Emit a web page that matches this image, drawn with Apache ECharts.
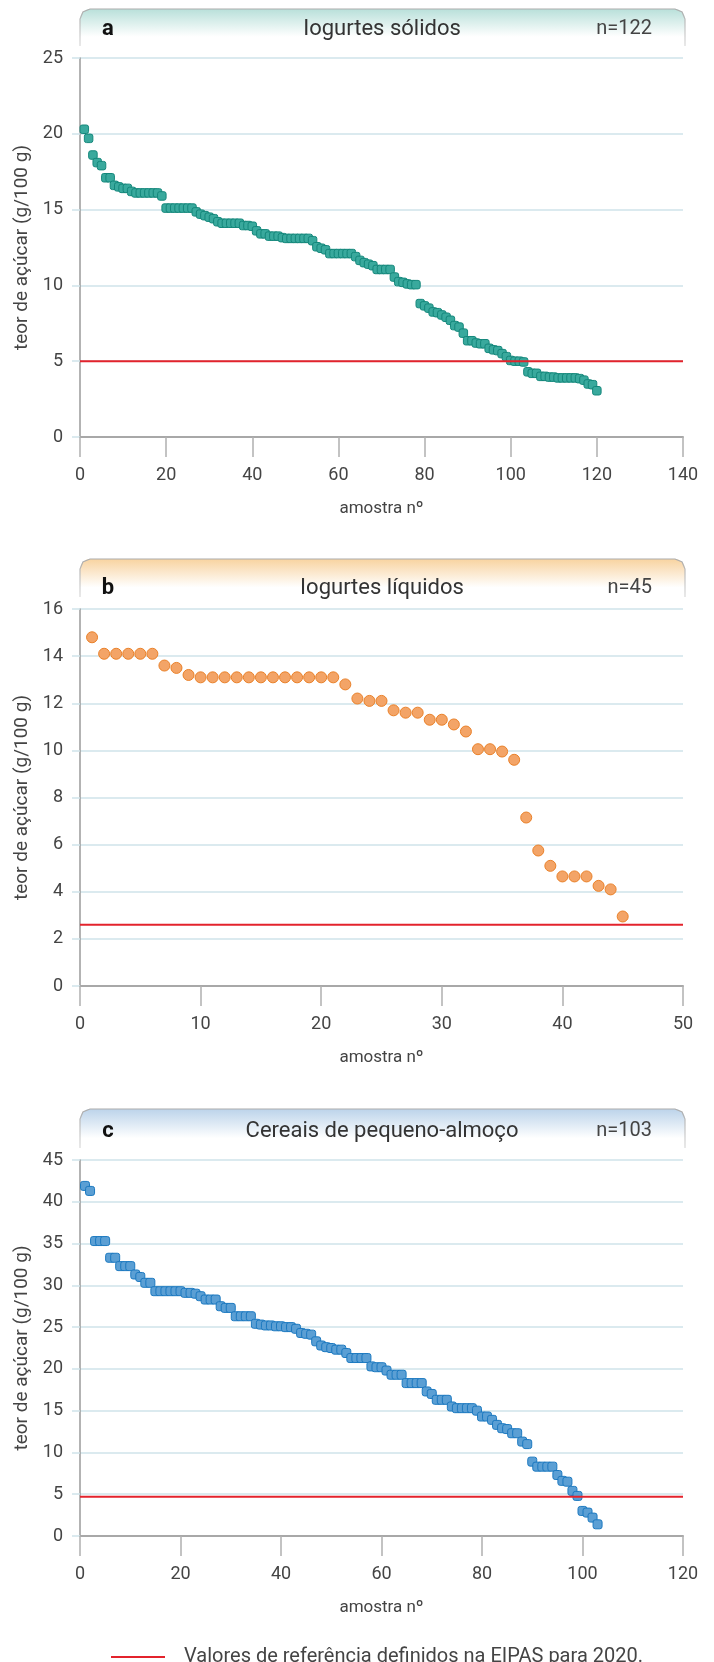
<!DOCTYPE html>
<html><head><meta charset="utf-8">
<script src="https://cdn.jsdelivr.net/npm/echarts@6/dist/echarts.min.js"></script>
<style>html,body{margin:0;padding:0;background:#fff}#c{width:714px;height:1662px}</style>
</head><body><div id="c"></div>
<script>
// ---- data ----
const yogSolid = [20.3, 19.7, 18.6, 18.1, 17.9, 17.1, 17.1, 16.6, 16.5, 16.4,
  16.4, 16.2, 16.1, 16.1, 16.1, 16.1, 16.1, 16.1, 15.9, 15.1,
  15.1, 15.1, 15.1, 15.1, 15.1, 15.1, 14.85, 14.7, 14.6, 14.5,
  14.4, 14.2, 14.1, 14.1, 14.1, 14.1, 14.1, 13.95, 13.95, 13.9,
  13.6, 13.4, 13.4, 13.25, 13.25, 13.25, 13.15, 13.1, 13.1, 13.1,
  13.1, 13.1, 13.1, 12.95, 12.55, 12.45, 12.35, 12.1, 12.1, 12.1,
  12.1, 12.1, 12.1, 11.9, 11.65, 11.5, 11.4, 11.3, 11.05, 11.05,
  11.05, 11.05, 10.55, 10.25, 10.2, 10.1, 10.05, 10.05, 8.8, 8.65,
  8.5, 8.25, 8.2, 8.05, 7.9, 7.7, 7.35, 7.25, 6.85, 6.35,
  6.35, 6.2, 6.15, 6.15, 5.85, 5.75, 5.7, 5.5, 5.3, 5.05,
  5.0, 5.0, 4.95, 4.3, 4.2, 4.2, 4.0, 4.0, 3.95, 3.95,
  3.9, 3.9, 3.9, 3.9, 3.9, 3.85, 3.75, 3.5, 3.45, 3.05];
const yogLiquid = [14.8, 14.1, 14.1, 14.1, 14.1, 14.1, 13.6, 13.5, 13.2, 13.1,
  13.1, 13.1, 13.1, 13.1, 13.1, 13.1, 13.1, 13.1, 13.1, 13.1,
  13.1, 12.8, 12.2, 12.1, 12.1, 11.7, 11.6, 11.6, 11.3, 11.3,
  11.1, 10.8, 10.05, 10.05, 9.95, 9.6, 7.15, 5.75, 5.1, 4.65,
  4.65, 4.65, 4.25, 4.1, 2.95];
const cereals = [41.9, 41.3, 35.3, 35.3, 35.3, 33.3, 33.3, 32.3, 32.3, 32.3,
  31.3, 31.0, 30.3, 30.3, 29.3, 29.3, 29.3, 29.3, 29.3, 29.3,
  29.1, 29.1, 29.0, 28.7, 28.3, 28.3, 28.3, 27.5, 27.3, 27.3,
  26.3, 26.3, 26.3, 26.3, 25.4, 25.3, 25.2, 25.2, 25.1, 25.1,
  25.0, 25.0, 24.8, 24.3, 24.2, 24.1, 23.3, 22.8, 22.6, 22.5,
  22.3, 22.3, 21.9, 21.3, 21.3, 21.3, 21.3, 20.3, 20.2, 20.2,
  19.8, 19.3, 19.3, 19.3, 18.3, 18.3, 18.3, 18.3, 17.3, 17.0,
  16.3, 16.3, 16.3, 15.5, 15.3, 15.3, 15.3, 15.3, 15.0, 14.3,
  14.3, 13.9, 13.3, 12.9, 12.8, 12.3, 12.3, 11.3, 11.0, 8.9,
  8.3, 8.3, 8.3, 8.3, 7.3, 6.6, 6.5, 5.4, 4.8, 3.0,
  2.8, 2.2, 1.4];
const refValues = [5, 2.6, 4.7];
const panelLetters = ['a', 'b', 'c'];
const panelTitles = ['Iogurtes sólidos', 'Iogurtes líquidos', 'Cereais de pequeno-almoço'];
const panelCounts = ['n=122', 'n=45', 'n=103'];
const xMaxes = [140, 50, 120];
const xIntervals = [20, 10, 20];
const yMaxes = [25, 16, 45];
const yIntervals = [5, 2, 5];
const yAxisName = 'teor de açúcar (g/100 g)';
const xAxisName = 'amostra nº';
const legendLabel = 'Valores de referência definidos na EIPAS para 2020.';

// ---- styling / layout ----
const FONT = 'Roboto, "Liberation Sans", Arial, sans-serif';
const gridTops = [58, 609, 1160];
const gridHeights = [379, 377, 376];
const tabTops = [9, 559, 1109];
const titleMid = [29, 588, 1131];
const tabColors = ['#b9e0da', '#f8d3a0', '#bcd3ea'];
const markers = [
  {symbol: 'roundRect', size: 8.5, fill: '#39a99d', stroke: '#14877b'},
  {symbol: 'circle', size: 11, fill: '#f3a467', stroke: '#ea8129'},
  {symbol: 'roundRect', size: 9, fill: '#5b9fd4', stroke: '#1c79c0'}
];
const seriesData = [yogSolid, yogLiquid, cereals];

const grids = [], xAxes = [], yAxes = [], series = [], graphics = [];
for (let k = 0; k < 3; k++) {
  grids.push({left: 80, width: 603, top: gridTops[k], height: gridHeights[k]});
  xAxes.push({
    gridIndex: k, type: 'value', min: 0, max: xMaxes[k], interval: xIntervals[k],
    name: xAxisName, nameLocation: 'middle', nameGap: 63,
    nameTextStyle: {fontFamily: FONT, fontSize: 17, color: '#444'},
    axisLine: {show: true, onZero: false, lineStyle: {color: '#a8a8a8', width: 2}},
    axisTick: {show: true, length: 20, lineStyle: {color: '#b0b0b0', width: 1.5}},
    axisLabel: {margin: 29, fontFamily: FONT, fontSize: 18, color: '#444'},
    splitLine: {show: false}
  });
  yAxes.push({
    gridIndex: k, type: 'value', min: 0, max: yMaxes[k], interval: yIntervals[k],
    name: yAxisName, nameLocation: 'middle', nameGap: 47,
    nameTextStyle: {fontFamily: FONT, fontSize: 19, color: '#444'},
    axisLine: {show: true, lineStyle: {color: '#9a9a9a', width: 1.5}},
    axisTick: {show: true, length: 8, lineStyle: {color: '#cfe3ea', width: 1.5}},
    axisLabel: {margin: 17, fontFamily: FONT, fontSize: 18, color: '#444'},
    splitLine: {show: true, lineStyle: {color: '#cfe3ea', width: 1.5}}
  });
  const m = markers[k];
  series.push({
    type: 'scatter', xAxisIndex: k, yAxisIndex: k,
    data: seriesData[k].map((v, i) => [i + 1, v]),
    symbol: m.symbol, symbolSize: m.size,
    itemStyle: {color: m.fill, borderColor: m.stroke, borderWidth: 1, opacity: 1},
    z: 3
  });
  series.push({
    type: 'line', name: legendLabel, xAxisIndex: k, yAxisIndex: k,
    data: [[0, refValues[k]], [xMaxes[k], refValues[k]]],
    showSymbol: false, symbol: 'none',
    itemStyle: {color: '#e3232c'},
    lineStyle: {color: '#e3232c', width: 2},
    z: 4, silent: true
  });
  // header tab
  const t = tabTops[k], h = gridTops[k] - 12 - t;
  graphics.push({
    type: 'rect', z: 1,
    shape: {x: 80, y: t, width: 605, height: h, r: [10, 10, 0, 0]},
    style: {
      fill: new echarts.graphic.LinearGradient(0, 0, 0, 1, [
        {offset: 0, color: tabColors[k]}, {offset: 0.75, color: '#ffffff'}, {offset: 1, color: '#ffffff'}
      ])
    }
  });
  graphics.push({
    type: 'polyline', z: 2,
    shape: {points: [[80, t + h], [80, t + 10], [82.9, t + 2.9], [90, t], [675, t], [682.1, t + 2.9], [685, t + 10], [685, t + h]]},
    style: {
      fill: null, lineWidth: 1.2,
      stroke: new echarts.graphic.LinearGradient(0, 0, 0, 1, [
        {offset: 0, color: '#a9a9a9'}, {offset: 1, color: '#dcdcdc'}
      ])
    }
  });
  graphics.push({
    type: 'text', z: 3, x: 108, y: titleMid[k],
    style: {text: panelLetters[k], font: 'bold 22px ' + FONT, fill: '#111', align: 'center', verticalAlign: 'middle'}
  });
  graphics.push({
    type: 'text', z: 3, x: 382, y: titleMid[k],
    style: {text: panelTitles[k], font: '22px ' + FONT, fill: '#333', align: 'center', verticalAlign: 'middle'}
  });
  graphics.push({
    type: 'text', z: 3, x: 652, y: titleMid[k],
    style: {text: panelCounts[k], font: '20px ' + FONT, fill: '#444', align: 'right', verticalAlign: 'middle'}
  });
}

const chart = echarts.init(document.getElementById('c'), null, {renderer: 'canvas'});
chart.setOption({
  animation: false,
  backgroundColor: '#ffffff',
  grid: grids, xAxis: xAxes, yAxis: yAxes, series: series,
  legend: {
    data: [legendLabel], left: 106, top: 1642, icon: 'rect',
    itemWidth: 54, itemHeight: 2,
    textStyle: {fontFamily: FONT, fontSize: 20, color: '#444', padding: [0, 0, 0, 14]}
  },
  graphic: graphics
});
</script></body></html>
